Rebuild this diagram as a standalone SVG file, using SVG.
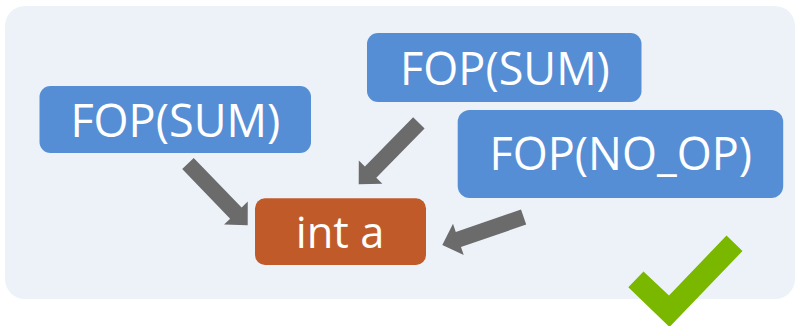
<svg xmlns="http://www.w3.org/2000/svg" width="795" height="326" viewBox="0 0 795 326">
  <defs>
    <style>
      .panel { fill: #EDF2F9; }
      .op { fill: #558ED5; }
      .var { fill: #C05B29; }
      .label { fill: #FFFFFF; font-family: "Open Sans", "Noto Sans", "DejaVu Sans", sans-serif; text-anchor: middle; }
      .arrow { fill: #6B6B6B; }
      .check { fill: #7AB800; }
    </style>
    <!-- block arrow, tip at origin, pointing along +x -->
    <polygon id="block-arrow" points="0,0 -17,-16.5 -17,-8 -86,-8 -86,8 -17,8 -17,16.5"/>
  </defs>

  <!-- background panel -->
  <rect class="panel" x="5" y="6" width="790" height="293" rx="20" ry="20"/>

  <!-- connectors -->
  <g id="connectors">
    <use href="#block-arrow" class="arrow" transform="translate(247.7,225.3) rotate(46)"/>
    <use href="#block-arrow" class="arrow" transform="translate(358.7,184.3) rotate(134.4)"/>
    <use href="#block-arrow" class="arrow" transform="translate(442.3,245) rotate(161)"/>
  </g>

  <g id="fop-sum-left">
    <rect class="op" x="39.5" y="86" width="271.5" height="67" rx="11" ry="11"/>
    <text class="label" x="175.3" y="137" font-size="45">FOP(SUM)</text>
  </g>

  <g id="fop-sum-top">
    <rect class="op" x="367" y="33" width="274.5" height="69" rx="11" ry="11"/>
    <text class="label" x="505" y="85" font-size="45">FOP(SUM)</text>
  </g>

  <g id="fop-no-op">
    <rect class="op" x="457.7" y="110" width="325.5" height="88" rx="12" ry="12"/>
    <text class="label" x="620.8" y="170" font-size="45">FOP(NO_OP)</text>
  </g>

  <g id="int-a">
    <rect class="var" x="255" y="198.3" width="171" height="66.7" rx="10" ry="10"/>
    <text class="label" x="340" y="247.7" font-size="43.5">int a</text>
  </g>

  <!-- check mark -->
  <polygon class="check" points="628.3,287.3 643.5,271.5 669,295.5 726.5,235.5 742.5,251 669.5,327"/>
</svg>
